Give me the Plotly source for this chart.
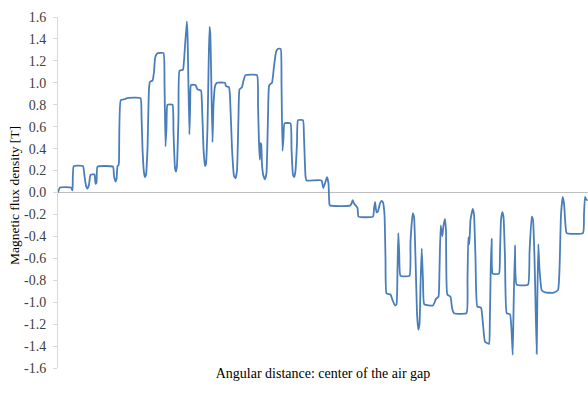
import plotly.graph_objects as go

angle = [0, 2, 13, 14.5, 15.7, 25, 26.5, 28, 29.5, 31, 32.5, 36.5, 37.5, 38.5, 39.5, 55, 56, 57.5, 58.5, 59.5,
         60.5, 61, 62.7, 67, 69, 82.5, 83.5, 84.5, 86, 87, 88, 89.5, 91, 92, 94.5, 96, 97, 98.5, 100, 105.5,
         106.5, 107.5, 108.5, 109.5, 114.5, 115.5, 117, 118, 119, 120.5, 121.5, 125, 126, 128.8, 129.5, 131.4,
         132.2, 133, 137.5, 139.5, 143, 144, 145.5, 147, 148, 149.5, 150.5, 151.5, 152.3, 154.5, 155.5, 157,
         159, 167, 168, 171, 172, 174, 176, 177.5, 179, 180.5, 181.5, 184, 185.5, 187.5, 199, 200, 201, 201.8,
         202.5, 203.2, 204, 205.5, 207, 208.5, 210, 211, 212.5, 214, 216, 218, 220, 222.7, 223.5, 224.5, 225.5,
         226.5, 232.5, 233.5, 235, 236.3, 237.5, 239, 240, 245, 246, 247.5, 248.5, 263.5, 265.3, 267.5, 269,
         270.5, 271.5, 272.5, 292, 293.5, 294.7, 296, 299.5, 300.5, 315, 316, 317, 318.5, 320, 322, 323.7, 325,
         326.5, 327.5, 328.5, 332.5, 334.5, 337, 338.5, 339.5, 340.3, 341.2, 342.5, 351.5, 352.5, 354.7, 356,
         357.5, 359, 360.3, 361.5, 362.5, 363.7, 365, 366.3, 375, 378, 380.5, 381.5, 382.7, 384.3, 385.5, 387,
         388, 389.3, 392.5, 394, 396, 408.5, 409.5, 410.3, 411.3, 412.5, 414.7, 416, 417.5, 419.3, 423, 425,
         427, 431, 431.8, 432.7, 433.7, 434.7, 441, 442, 443, 444.3, 445.5, 447, 448.7, 452, 453.5, 454.7,
         455.5, 457, 458.7, 470, 471.5, 473.7, 475, 476.5, 477.5, 478.7, 479.3, 480.3, 481.5, 483.7, 487, 495,
         500, 501.5, 503, 504.7, 506, 507.5, 508.7, 525, 526, 527, 528, 529.5]

flux = [0.0, 0.045, 0.045, 0.02, 0.24, 0.24, 0.15, 0.06, 0.035, 0.07, 0.16, 0.165, 0.08, 0.09, 0.235, 0.235,
        0.15, 0.10, 0.12, 0.24, 0.25, 0.28, 0.84, 0.85, 0.86, 0.86, 0.70, 0.40, 0.18, 0.14, 0.16, 0.40, 0.95,
        1.01, 1.02, 1.10, 1.22, 1.26, 1.27, 1.27, 1.0, 0.42, 0.60, 0.80, 0.80, 0.55, 0.22, 0.19, 0.25, 0.70,
        1.11, 1.12, 1.20, 1.56, 1.45, 0.53, 0.80, 0.98, 0.98, 0.94, 0.93, 0.80, 0.40, 0.24, 0.26, 0.60, 1.1,
        1.51, 1.45, 0.46, 0.80, 0.97, 1.0, 1.0, 0.97, 0.96, 0.88, 0.40, 0.15, 0.13, 0.20, 0.70, 0.94, 0.96,
        1.02, 1.07, 1.07, 0.80, 0.45, 0.30, 0.45, 0.44, 0.25, 0.15, 0.12, 0.18, 0.70, 0.97, 0.99, 1.00, 1.15,
        1.28, 1.31, 1.31, 1.0, 0.38, 0.50, 0.63, 0.63, 0.40, 0.16, 0.14, 0.20, 0.45, 0.66, 0.66, 0.50, 0.15,
        0.11, 0.11, 0.04, 0.10, 0.14, 0.08, -0.11, -0.12, -0.12, -0.10, -0.07, -0.10, -0.14, -0.22, -0.22,
        -0.15, -0.085, -0.18, -0.17, -0.10, -0.077, -0.09, -0.20, -0.60, -0.92, -0.93, -0.98, -1.03, -1.02,
        -0.70, -0.37, -0.55, -0.76, -0.76, -0.45, -0.19, -0.22, -0.60, -1.10, -1.25, -1.20, -0.85, -0.51,
        -0.80, -1.02, -1.03, -0.97, -0.95, -0.70, -0.30, -0.40, -0.30, -0.24, -0.35, -0.93, -0.95, -1.05,
        -1.10, -1.10, -0.80, -0.41, -0.47, -0.25, -0.15, -0.20, -0.60, -1.04, -1.05, -1.20, -1.36, -1.38,
        -1.20, -0.70, -0.42, -0.74, -0.74, -0.55, -0.25, -0.18, -0.22, -0.60, -1.10, -1.11, -1.25, -1.48,
        -1.10, -0.48, -0.84, -0.84, -0.55, -0.22, -0.25, -0.60, -1.00, -1.47, -1.00, -0.47, -0.70, -0.89,
        -0.91, -0.915, -0.89, -0.70, -0.20, -0.04, -0.10, -0.30, -0.37, -0.37, -0.20, -0.04, -0.06, -0.075]

y_ticks = [-1.6, -1.4, -1.2, -1.0, -0.8, -0.6, -0.4, -0.2, 0.0, 0.2, 0.4, 0.6, 0.8, 1.0, 1.2, 1.4, 1.6]
y_tick_labels = ["-1.6", "-1.4", "-1.2", "-1.0", "-0.8", "-0.6", "-0.4", "-0.2", "0.0",
                 "0.2", "0.4", "0.6", "0.8", "1.0", "1.2", "1.4", "1.6"]

x_title = "Angular distance: center of the air gap"
y_title = "Magnetic flux density [T]"

fig = go.Figure()
fig.add_trace(go.Scatter(x=angle, y=flux, mode="lines",
                         line=dict(color="#4a7ebb", width=1.8, shape="spline", smoothing=0.4),
                         showlegend=False, hoverinfo="skip"))

font_family = "'Liberation Serif', 'Times New Roman', Tinos, serif"
fig.update_layout(
    width=588, height=393,
    margin=dict(l=58, r=0, t=17, b=25),
    paper_bgcolor="white", plot_bgcolor="white",
    font=dict(family=font_family, size=14, color="#404040"),
    xaxis=dict(range=[0, 530], showticklabels=False, showgrid=False, zeroline=False,
               showline=False, ticks="",
               title=dict(text=x_title,
                          font=dict(family=font_family, size=14, color="#000000"), standoff=0)),
    yaxis=dict(range=[-1.6, 1.6], tickvals=y_ticks, ticktext=y_tick_labels,
               showgrid=False, zeroline=True, zerolinecolor="#bfbfbf", zerolinewidth=1,
               showline=True, linecolor="#d9d9d9", linewidth=1,
               ticks="outside", ticklen=4, tickcolor="#d9d9d9", ticklabelstandoff=4,
               tickfont=dict(family=font_family, size=14, color="#404040")),
    annotations=[dict(text=y_title, textangle=-90, xref="paper", yref="paper",
                      x=-0.083, y=0.49, xanchor="center", yanchor="middle", showarrow=False,
                      font=dict(family=font_family, size=13.5, color="#000000"))],
)

fig.write_html("out.html")
